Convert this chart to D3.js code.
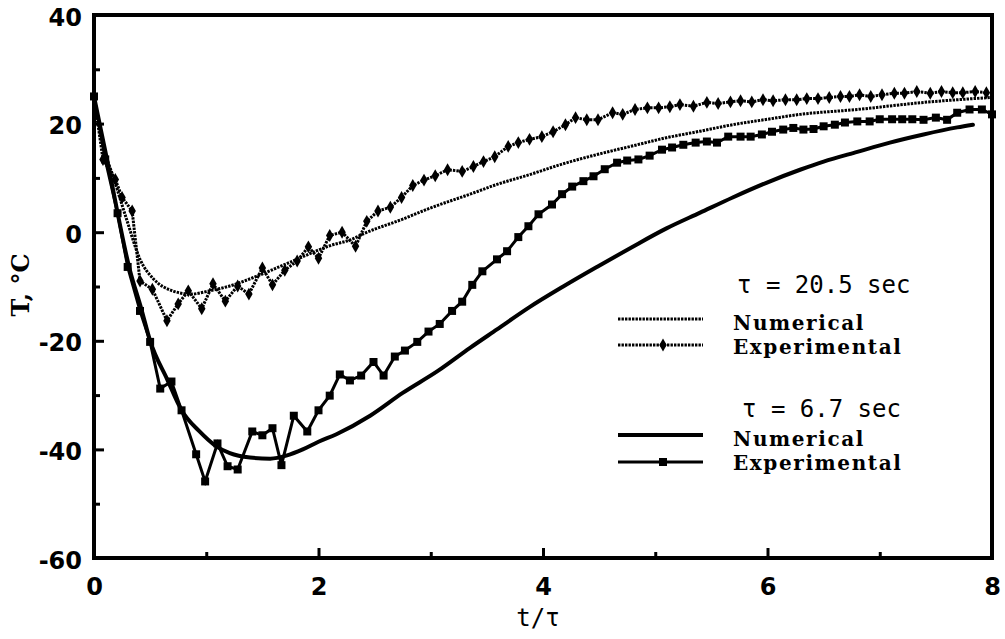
<!DOCTYPE html>
<html>
<head>
<meta charset="utf-8">
<title>Temperature vs t/tau</title>
<style>
  body { margin: 0; background: #fff; }
</style>
</head>
<body>
<script src="https://d3js.org/d3.v7.min.js"></script>
<div id="my_dataviz"></div>
<script>

// ---- data ----
// tau = 20.5 sec, numerical (dotted line)
var num205_t = [0, 0.08, 0.17, 0.29, 0.41, 0.53, 0.70, 0.86, 1.03, 1.21, 1.45, 1.75, 2.10, 2.31, 2.40, 2.75, 2.99, 3.35, 3.59, 3.88, 4.18, 4.48, 4.78, 5.10, 5.40, 5.69, 6.00, 6.29, 6.80, 7.39, 7.98]
var num205_T = [25, 16, 10.3, 2.4, -5.0, -8.6, -10.8, -11.4, -10.8, -9.9, -8.1, -5.5, -2.5, -1.2, -0.3, 2.4, 4.4, 7.0, 8.8, 10.6, 12.6, 14.3, 15.8, 17.4, 18.6, 19.8, 20.8, 21.7, 22.6, 23.9, 24.8]

// tau = 20.5 sec, experimental (diamonds)
var exp205_t = [0, 0.08, 0.19, 0.25, 0.34, 0.41, 0.52, 0.65, 0.75, 0.84, 0.96, 1.06, 1.17, 1.28, 1.38, 1.50, 1.59, 1.70, 1.81, 1.91, 2.00, 2.10, 2.21, 2.33, 2.43, 2.53, 2.64, 2.74, 2.84, 2.94, 3.04, 3.15, 3.28, 3.38, 3.47, 3.57, 3.69, 3.78, 3.88, 3.99, 4.09, 4.20, 4.29, 4.39, 4.49, 4.62, 4.71, 4.82, 4.93, 5.03, 5.13, 5.22, 5.34, 5.46, 5.56, 5.67, 5.76, 5.86, 5.96, 6.05, 6.16, 6.26, 6.35, 6.45, 6.55, 6.65, 6.73, 6.82, 6.92, 7.02, 7.13, 7.22, 7.33, 7.45, 7.55, 7.65, 7.74, 7.85, 7.95]
var exp205_T = [25, 13.4, 9.7, 6.4, 3.9, -9.0, -10.5, -16.3, -13.2, -10.8, -14.1, -9.5, -12.7, -9.9, -11.4, -6.6, -9.7, -7.0, -5.3, -2.7, -4.8, -0.6, 0, -2.6, 2.0, 3.9, 4.6, 6.4, 8.6, 9.6, 10.4, 11.5, 11.2, 12.1, 13.0, 13.9, 15.8, 16.5, 17.1, 17.6, 18.5, 19.8, 21.1, 20.7, 20.7, 22.0, 21.7, 22.6, 22.9, 22.9, 23.1, 23.5, 23.2, 23.9, 23.7, 24.0, 24.2, 24.0, 24.4, 24.2, 24.4, 24.4, 24.6, 24.6, 24.8, 25.0, 25.0, 25.3, 25.0, 25.3, 25.6, 25.6, 25.9, 25.6, 25.9, 25.7, 25.7, 25.9, 25.7]

// tau = 6.7 sec, numerical (solid line)
var num67_t = [0, 0.12, 0.32, 0.42, 0.50, 0.65, 0.78, 0.94, 1.08, 1.21, 1.39, 1.57, 1.72, 1.86, 2.00, 2.16, 2.46, 2.75, 3.06, 3.35, 3.59, 3.88, 4.18, 4.48, 4.78, 5.10, 5.40, 5.69, 5.99, 6.29, 6.50, 6.80, 7.09, 7.39, 7.69, 7.83]
var num67_T = [25, 13, -7, -14, -20, -27, -32.8, -36.7, -39.3, -40.7, -41.5, -41.7, -41.1, -40.0, -38.6, -37.2, -33.8, -29.6, -25.6, -21.3, -17.9, -13.8, -10.0, -6.4, -2.9, 0.7, 3.6, 6.4, 9.1, 11.5, 13.0, 14.8, 16.5, 18.0, 19.3, 19.8]

// tau = 6.7 sec, experimental (squares)
var exp67_t = [0, 0.10, 0.21, 0.30, 0.41, 0.50, 0.59, 0.69, 0.78, 0.91, 0.99, 1.10, 1.19, 1.28, 1.41, 1.50, 1.59, 1.67, 1.78, 1.90, 2.00, 2.10, 2.19, 2.28, 2.38, 2.49, 2.58, 2.68, 2.77, 2.88, 2.98, 3.08, 3.19, 3.28, 3.37, 3.46, 3.59, 3.68, 3.78, 3.87, 3.96, 4.08, 4.17, 4.26, 4.36, 4.45, 4.55, 4.66, 4.75, 4.85, 4.95, 5.06, 5.15, 5.25, 5.36, 5.46, 5.55, 5.65, 5.76, 5.85, 5.95, 6.04, 6.14, 6.23, 6.32, 6.41, 6.50, 6.60, 6.69, 6.80, 6.91, 7.00, 7.11, 7.20, 7.29, 7.39, 7.50, 7.60, 7.69, 7.80, 7.91, 8.00]
var exp67_T = [25, 13.4, 3.5, -6.4, -14.5, -20.2, -28.8, -27.5, -32.8, -40.9, -45.9, -38.9, -43.1, -43.7, -36.7, -37.4, -36.1, -42.9, -33.8, -36.7, -32.8, -30.1, -26.2, -27.3, -26.4, -23.9, -26.4, -22.9, -21.8, -20.2, -18.3, -16.9, -14.5, -12.8, -9.7, -7.2, -5.0, -3.5, -0.9, 1.1, 3.3, 5.1, 7.0, 8.4, 9.4, 10.3, 11.6, 12.8, 13.2, 13.4, 14.1, 15.2, 15.6, 16.1, 16.5, 16.7, 16.5, 17.6, 17.6, 17.6, 18.0, 18.5, 18.9, 19.2, 18.9, 19.0, 19.5, 19.8, 20.2, 20.4, 20.4, 20.8, 20.8, 20.8, 20.8, 20.7, 21.1, 20.7, 22.0, 22.6, 22.6, 21.7]

// axis ticks
var xMajor = [0, 2, 4, 6, 8]
var xMinor = [1, 3, 5, 7]
var yMajor = [-60, -40, -20, 0, 20, 40]
var yMinor = [-50, -30, -10, 10, 30]

// legend text
var legendTitles = ["\u03c4 = 20.5 sec", "\u03c4 = 6.7 sec"]
var legendNames = ["Numerical", "Experimental"]

// ---- set up ----
var width = 1005,
    height = 639

var svg = d3.select("#my_dataviz")
  .append("svg")
    .attr("width", width)
    .attr("height", height)
    .style("background", "#fff")

var x = d3.scaleLinear().domain([0, 8]).range([94, 992])
var y = d3.scaleLinear().domain([-60, 40]).range([558, 15])

function zip(ts, Ts) {
  return ts.map(function(t, i) { return {t: t, T: Ts[i]} })
}

var line = d3.line()
  .x(function(d) { return x(d.t) })
  .y(function(d) { return y(d.T) })

var smooth = d3.line()
  .curve(d3.curveMonotoneX)
  .x(function(d) { return x(d.t) })
  .y(function(d) { return y(d.T) })

// plain hyphen for negatives, like the original
var plain = function(d) { return String(d) }

// ---- axes (ticks point inwards) ----
var tickFont = "'DejaVu Sans', sans-serif"

function styleAxis(g) {
  g.select(".domain").remove()
  g.selectAll(".tick line").attr("stroke", "#000").attr("stroke-width", 3)
  g.selectAll(".tick text")
    .attr("fill", "#000")
    .style("font-family", tickFont)
    .style("font-weight", "bold")
    .style("font-size", "24px")
}

svg.append("g")
  .attr("transform", "translate(0," + y(-60) + ")")
  .call(d3.axisBottom(x).tickValues(xMajor).tickSize(-10).tickPadding(20).tickFormat(plain))
  .call(styleAxis)

svg.append("g")
  .attr("transform", "translate(0," + y(-60) + ")")
  .call(d3.axisBottom(x).tickValues(xMinor).tickSize(-6).tickFormat(""))
  .call(styleAxis)

svg.append("g")
  .attr("transform", "translate(" + x(0) + ",0)")
  .call(d3.axisLeft(y).tickValues(yMajor).tickSize(-10).tickPadding(12).tickFormat(plain))
  .call(styleAxis)
  .selectAll(".tick text").attr("dy", "0.42em")

svg.append("g")
  .attr("transform", "translate(" + x(0) + ",0)")
  .call(d3.axisLeft(y).tickValues(yMinor).tickSize(-6).tickFormat(""))
  .call(styleAxis)

// frame
svg.append("rect")
  .attr("x", x(0))
  .attr("y", y(40))
  .attr("width", x(8) - x(0))
  .attr("height", y(-60) - y(40))
  .attr("fill", "none")
  .attr("stroke", "#000")
  .attr("stroke-width", 4)

// axis titles
svg.append("text")
  .attr("transform", "translate(29," + 285 + ") rotate(-90)")
  .attr("text-anchor", "middle")
  .style("font-family", "'DejaVu Serif', serif")
  .style("font-weight", "bold")
  .style("font-size", "24px")
  .text("T, \u00b0C")

svg.append("text")
  .attr("x", x(4) - 5)
  .attr("y", 626)
  .attr("text-anchor", "middle")
  .style("font-family", "'DejaVu Sans Mono', monospace")
  .style("font-size", "24px")
  .text("t/\u03c4")

// ---- curves ----
var dotted = "2.4,1.1"

svg.append("path")
  .datum(zip(num205_t, num205_T))
  .attr("d", smooth)
  .attr("fill", "none")
  .attr("stroke", "#000")
  .attr("stroke-width", 3)
  .attr("stroke-dasharray", dotted)

svg.append("path")
  .datum(zip(exp205_t, exp205_T))
  .attr("d", line)
  .attr("fill", "none")
  .attr("stroke", "#000")
  .attr("stroke-width", 3)
  .attr("stroke-dasharray", dotted)

svg.selectAll("diamonds")
  .data(zip(exp205_t, exp205_T))
  .enter()
  .append("path")
    .attr("d", d3.symbol(d3.symbolDiamond).size(48))
    .attr("transform", function(d) { return "translate(" + x(d.t) + "," + y(d.T) + ")" })
    .attr("fill", "#000")

svg.append("path")
  .datum(zip(num67_t, num67_T))
  .attr("d", smooth)
  .attr("fill", "none")
  .attr("stroke", "#000")
  .attr("stroke-width", 4)
  .attr("stroke-linecap", "round")

svg.append("path")
  .datum(zip(exp67_t, exp67_T))
  .attr("d", line)
  .attr("fill", "none")
  .attr("stroke", "#000")
  .attr("stroke-width", 3)

svg.selectAll("squares")
  .data(zip(exp67_t, exp67_T))
  .enter()
  .append("path")
    .attr("d", d3.symbol(d3.symbolSquare).size(64))
    .attr("transform", function(d) { return "translate(" + x(d.t) + "," + y(d.T) + ")" })
    .attr("fill", "#000")

// ---- legend ----
var serif = "'DejaVu Serif', serif"
var mono = "'DejaVu Sans Mono', monospace"

svg.append("text").attr("x", 737).attr("y", 293)
  .style("font-family", mono).style("font-size", "24px")
  .text(legendTitles[0])
svg.append("text").attr("x", 742).attr("y", 417)
  .style("font-family", mono).style("font-size", "24px")
  .text(legendTitles[1])

var rows = [
  {y: 319, ty: 330, name: legendNames[0], w: 3, dash: dotted, mark: null},
  {y: 345, ty: 354, name: legendNames[1], w: 3, dash: dotted, mark: d3.symbolDiamond},
  {y: 435, ty: 446, name: legendNames[0], w: 4, dash: null, mark: null},
  {y: 462, ty: 470, name: legendNames[1], w: 3, dash: null, mark: d3.symbolSquare}
]

rows.forEach(function(r) {
  svg.append("line")
    .attr("x1", 618).attr("x2", 703)
    .attr("y1", r.y).attr("y2", r.y)
    .attr("stroke", "#000")
    .attr("stroke-width", r.w)
    .attr("stroke-dasharray", r.dash)
  if (r.mark) {
    svg.append("path")
      .attr("d", d3.symbol(r.mark).size(r.mark === d3.symbolSquare ? 64 : 48))
      .attr("transform", "translate(663," + r.y + ")")
      .attr("fill", "#000")
  }
  svg.append("text")
    .attr("x", 733).attr("y", r.ty)
    .style("font-family", serif)
    .style("font-weight", "bold")
    .style("font-size", "20px")
    .style("letter-spacing", "1.6px")
    .text(r.name)
})

</script>
</body>
</html>
